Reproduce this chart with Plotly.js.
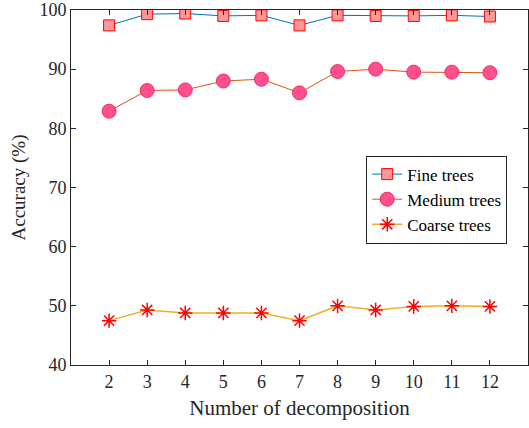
<!DOCTYPE html>
<html>
<head>
<meta charset="utf-8">
<script src="https://cdn.plot.ly/plotly-3.0.1.min.js"></script>
<style>html,body{margin:0;padding:0;background:#fff;}#chart{width:529px;height:428px;}</style>
</head>
<body>
<div id="chart"></div>
<script>
// Number of decomposition levels
const decomposition = [2, 3, 4, 5, 6, 7, 8, 9, 10, 11, 12];
// Classification accuracy (%) for each tree model
const fineTrees   = [97.4, 99.3, 99.4, 99.0, 99.1, 97.4, 99.1, 99.0, 99.0, 99.1, 98.9];
const mediumTrees = [82.9, 86.4, 86.5, 88.0, 88.3, 86.0, 89.6, 90.0, 89.5, 89.5, 89.4];
const coarseTrees = [47.5, 49.3, 48.8, 48.8, 48.8, 47.5, 50.0, 49.3, 49.9, 50.0, 49.9];
const yTicks = [40, 50, 60, 70, 80, 90, 100];

const serif = 'Liberation Serif, Times New Roman, serif';

const traces = [
  {
    x: decomposition, y: fineTrees, name: 'Fine trees', mode: 'lines+markers',
    line: {color: '#0072BD', width: 1},
    marker: {symbol: 'square', size: 11, color: '#FF9999', line: {color: '#FF0000', width: 1}}
  },
  {
    x: decomposition, y: mediumTrees, name: 'Medium trees', mode: 'lines+markers',
    line: {color: '#D95319', width: 1},
    marker: {symbol: 'circle', size: 14, color: '#FF4F8E', line: {color: '#F0325A', width: 1}}
  },
  {
    x: decomposition, y: coarseTrees, name: 'Coarse trees', mode: 'lines+markers',
    line: {color: '#EDB120', width: 1.5},
    marker: {symbol: 'asterisk-open', size: 12, color: '#FF0000', line: {color: '#FF0000', width: 1.5}}
  }
];

const axisCommon = {
  showgrid: false, zeroline: false, showline: true, mirror: 'ticks',
  linecolor: '#262626', linewidth: 1, ticks: 'inside', ticklen: 5,
  tickcolor: '#262626', tickfont: {family: serif, size: 18, color: '#262626'}
};

const layout = {
  width: 529, height: 428,
  margin: {l: 71, r: 1, t: 10, b: 63},
  paper_bgcolor: '#fff', plot_bgcolor: '#fff',
  showlegend: true,
  legend: {
    x: 0.646, y: 0.59, xanchor: 'left', yanchor: 'top',
    bgcolor: '#fff', bordercolor: '#262626', borderwidth: 1,
    font: {family: serif, size: 17, color: '#000'},
    tracegroupgap: 0, itemwidth: 30
  },
  xaxis: Object.assign({}, axisCommon, {
    range: [1, 13], tickmode: 'array', tickvals: decomposition,
    title: {text: 'Number of decomposition', font: {family: serif, size: 21, color: '#262626'}, standoff: 9}
  }),
  yaxis: Object.assign({}, axisCommon, {
    range: [40, 100], tickmode: 'array', tickvals: yTicks,
    title: {text: 'Accuracy (%)', font: {family: serif, size: 19, color: '#262626'}, standoff: 8}
  })
};

Plotly.newPlot('chart', traces, layout, {staticPlot: true});
</script>
</body>
</html>
